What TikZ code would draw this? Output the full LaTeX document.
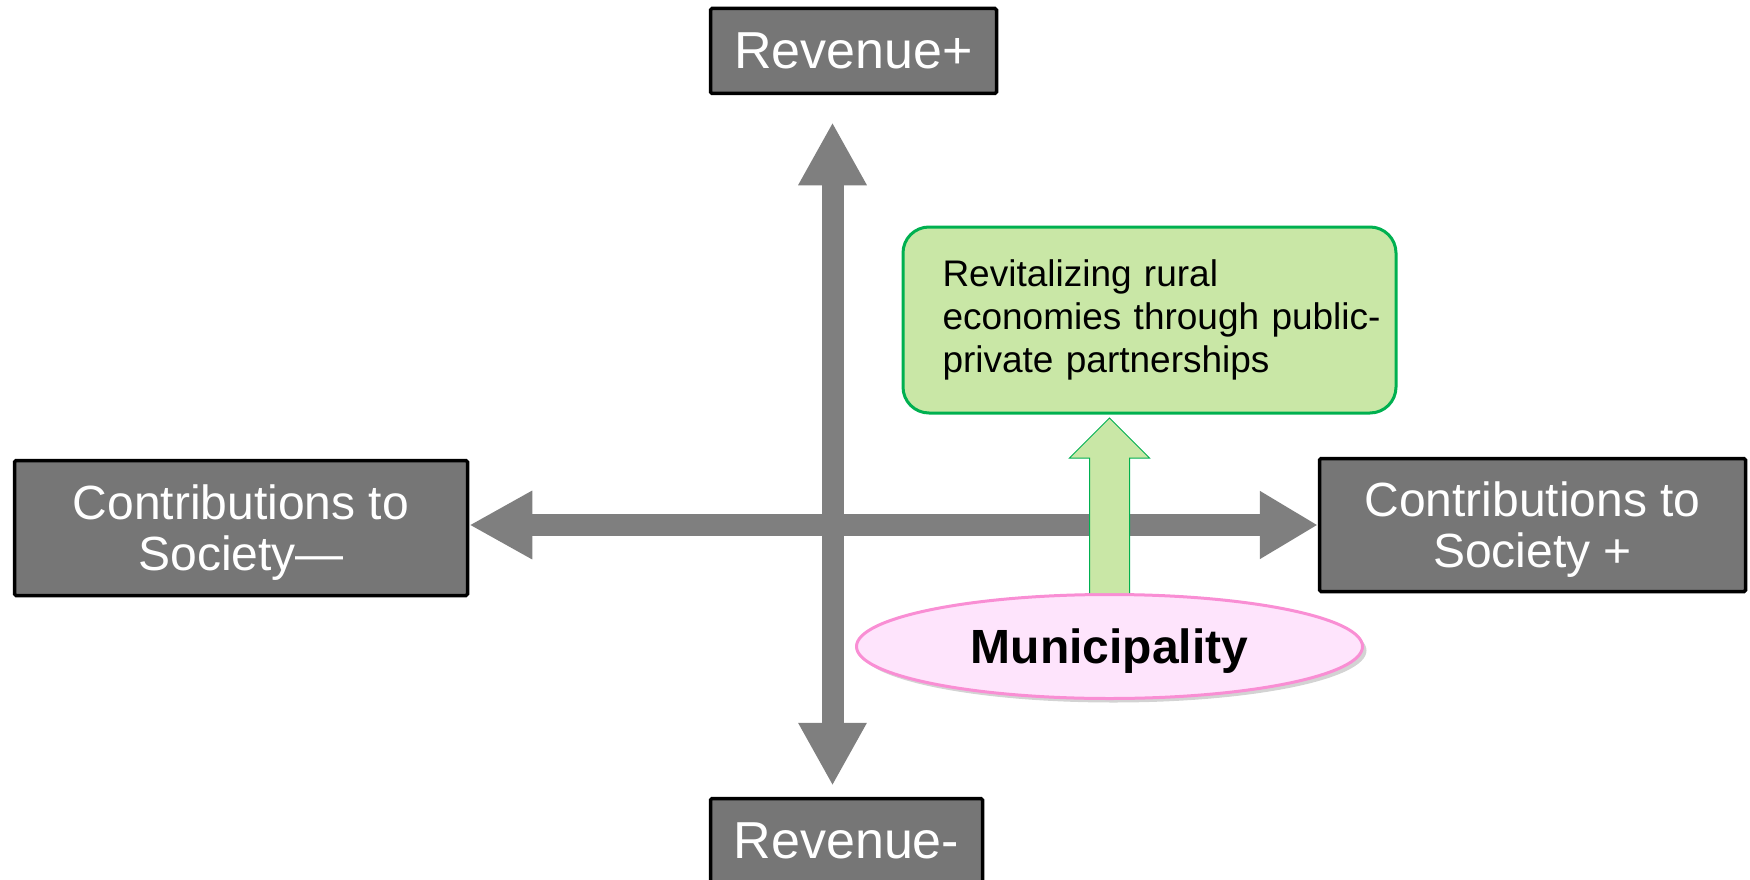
\documentclass[tikz,border=0pt]{standalone}
\usepackage{fontspec}
\setmainfont{Liberation Sans}
\usepackage{tikz}
\usetikzlibrary{arrows.meta,shapes.geometric,shadows}
\definecolor{boxgray}{RGB}{118,118,118}
\definecolor{axisgray}{RGB}{127,127,127}
\definecolor{leafgreen}{RGB}{201,231,166}
\definecolor{edgegreen}{RGB}{0,176,80}
\definecolor{blushpink}{RGB}{254,228,252}
\definecolor{rosepink}{RGB}{249,142,212}

\begin{document}
\begin{tikzpicture}[x=1pt, y=-1pt,
    quad/.style={rectangle, draw=black, line width=3.5pt, fill=boxgray, text=white, align=center, inner sep=0pt, text depth=0pt, rounded corners=1.5pt},
    axis/.style={draw=axisgray, line width=22pt, {Triangle[length=63pt,width=64pt]}-{Triangle[length=63pt,width=64pt]}},
    goal/.style={rectangle, draw=edgegreen, line width=3pt, fill=leafgreen, rounded corners=26pt, minimum width=493pt, minimum height=186pt, text width=414pt, inner xsep=39.5pt, align=left, font=\fontsize{37}{43}\selectfont},
    lift/.style={draw=edgegreen, line width=1pt, fill=leafgreen},
    actor/.style={ellipse, draw=rosepink, line width=3pt, fill=blushpink, minimum width=506pt, minimum height=104pt, inner sep=0pt, text depth=0pt, font=\fontsize{48}{52}\selectfont\bfseries, drop shadow={shadow xshift=4pt, shadow yshift=-4pt, opacity=0.35}}
]
    \useasboundingbox (0,0) rectangle (1750,880);

    \node[quad, minimum width=286pt, minimum height=85pt, font=\fontsize{52}{60}\selectfont] (revplus) at (853.5,51) {Revenue+};
    \node[quad, minimum width=272pt, minimum height=85pt, font=\fontsize{52}{60}\selectfont] (revminus) at (846.5,841) {Revenue-};
    \node[quad, minimum width=453pt, minimum height=135pt, font=\fontsize{48}{51}\selectfont] (socminus) at (241,528) {Contributions to\\Society—};
    \node[quad, minimum width=426pt, minimum height=133pt, font=\fontsize{48}{51}\selectfont] (socplus) at (1532.5,525) {Contributions to\\Society +};

    \coordinate (hub) at (832.5,525);
    \draw[axis] ([yshift=-27pt]hub |- revplus.south) -- ([yshift=11pt]hub |- revminus.north);
    \draw[axis, {Triangle[length=63pt,width=64pt]}-{Triangle[length=58pt,width=64pt]}] (hub -| socminus.east) -- (hub -| socplus.west);

    \node[goal] (aim) at (1149.5,320) {Revitalizing rural\\\mbox{economies through public-}\\private partnerships};
    \node[actor] (muni) at (1109.5,646.5) {Municipality};

    \path (muni.north) ++(0,-175) coordinate (tip);
    \filldraw[lift] ([xshift=20pt]muni.north) -- ++(0,-135) -- ++(20,0) -- (tip) -- ++(-40,40) -- ++(20,0) -- ([xshift=-20pt]muni.north);
\end{tikzpicture}
\end{document}
